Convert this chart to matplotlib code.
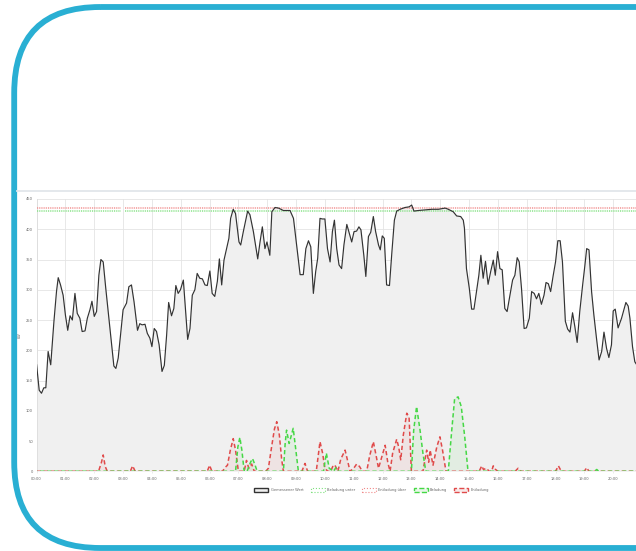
import numpy as np
import matplotlib.pyplot as plt
from matplotlib.patches import FancyBboxPatch, Patch

# --- DATA (hours since midnight, values in kW) ---
measured_t = [0, 0.09, 0.17, 0.25, 0.32, 0.40, 0.49, 0.6, 0.69, 0.75, 0.83, 0.92, 1.0, 1.08, 1.16, 1.24,
              1.33, 1.41, 1.5, 1.58, 1.68, 1.76, 1.85, 1.92, 2.0, 2.08, 2.16, 2.23, 2.31, 2.40, 2.50, 2.59,
              2.68, 2.75, 2.83, 2.91, 3.0, 3.12, 3.20, 3.29, 3.38, 3.50, 3.58, 3.66, 3.76, 3.84, 3.93, 4.0,
              4.08, 4.16, 4.25, 4.35, 4.43, 4.51, 4.58, 4.68, 4.76, 4.83, 4.91, 4.99, 5.09, 5.18, 5.24, 5.32,
              5.40, 5.49, 5.57, 5.66, 5.75, 5.84, 5.92, 6.01, 6.09, 6.18, 6.27, 6.34, 6.42, 6.50, 6.59, 6.67,
              6.73, 6.82, 6.90, 7.02, 7.08, 7.17, 7.32, 7.40, 7.52, 7.67, 7.75, 7.83, 7.92, 7.99, 8.09, 8.16,
              8.27, 8.39, 8.56, 8.79, 8.91, 9.02, 9.14, 9.25, 9.34, 9.43, 9.51, 9.60, 9.68, 9.75, 9.83, 9.91,
              10.0, 10.09, 10.18, 10.26, 10.33, 10.41, 10.49, 10.58, 10.66, 10.76, 10.85, 10.93, 11.01, 11.10,
              11.18, 11.25, 11.35, 11.42, 11.51, 11.59, 11.68, 11.76, 11.86, 11.92, 11.99, 12.06, 12.14, 12.24,
              12.32, 12.41, 12.49, 12.61, 12.78, 12.92, 13.01, 13.09, 13.24, 13.47, 13.71, 13.94, 14.17, 14.28,
              14.45, 14.57, 14.71, 14.80, 14.84, 14.91, 15.01, 15.09, 15.17, 15.26, 15.34, 15.41, 15.49, 15.57,
              15.66, 15.75, 15.84, 15.91, 15.99, 16.07, 16.15, 16.24, 16.32, 16.42, 16.51, 16.59, 16.67, 16.74,
              16.82, 16.91, 16.99, 17.09, 17.17, 17.26, 17.34, 17.42, 17.51, 17.60, 17.67, 17.75, 17.83, 17.92,
              18.0, 18.08, 18.16, 18.24, 18.34, 18.42, 18.50, 18.59, 18.67, 18.75, 18.84, 18.94, 19.02, 19.08,
              19.16, 19.25, 19.33, 19.42, 19.51, 19.60, 19.68, 19.77, 19.85, 19.94, 20.0, 20.07, 20.17, 20.29,
              20.44, 20.52, 20.58, 20.67, 20.75, 20.83]
measured_v = [176, 134, 129, 138, 138, 198, 176, 247, 297, 320, 308, 291, 258, 233, 257, 250,
              294, 261, 253, 231, 232, 253, 267, 281, 256, 264, 324, 350, 346, 302, 256, 214,
              174, 170, 187, 225, 267, 278, 305, 308, 280, 233, 244, 242, 243, 228, 220, 206,
              236, 231, 209, 165, 175, 225, 279, 257, 269, 307, 294, 300, 316, 258, 218, 236,
              291, 300, 327, 319, 318, 308, 307, 331, 294, 289, 314, 351, 308, 349, 368, 385,
              418, 433, 426, 379, 374, 396, 430, 424, 396, 351, 379, 404, 368, 379, 357, 429,
              436, 435, 431, 431, 418, 374, 325, 325, 368, 381, 371, 294, 330, 352, 418, 417,
              417, 368, 346, 396, 415, 368, 341, 335, 374, 408, 393, 379, 396, 397,
              404, 399, 357, 322, 388, 395, 421, 396, 374, 366, 389, 385, 308, 307,
              360, 415, 430, 433, 436, 437, 440, 430, 431, 432, 433, 433, 435, 433,
              429, 422, 421, 415, 402, 335, 302, 268, 268, 297, 324, 357, 319, 347,
              309, 330, 349, 324, 363, 335, 333, 269, 264, 291, 316, 324, 353, 346,
              302, 236, 237, 253, 297, 294, 285, 294, 276, 291, 312, 310, 297, 324,
              346, 381, 381, 346, 248, 235, 230, 262, 239, 213, 264, 308, 341, 368,
              366, 297, 258, 220, 184, 198, 230, 203, 188, 209, 265, 268, 237, 253,
              279, 273, 253, 206, 181, 175]

limit_t = [0, 2.92, 3.0, 3.07, 24]
limit_upper = [435, 435, np.nan, 435, 435]   # Entladung über
limit_lower = [430, 430, np.nan, 430, 430]   # Beladung unter

charge_t = [0, 6.9, 6.98, 7.05, 7.12, 7.2, 7.3, 7.42, 7.49, 7.58, 7.65, 8.56, 8.62, 8.67, 8.76, 8.9,
            8.98, 9.08, 9.95, 10.05, 10.15, 10.3, 10.38, 10.45, 13.0, 13.08, 13.18, 13.3, 13.4, 13.5,
            14.28, 14.4, 14.5, 14.62, 14.73, 14.85, 14.96, 15.0, 19.35, 19.43, 19.5, 24]
charge_v = [0, 0, 40, 56, 35, 0, 0, 15, 21, 10, 0, 0, 45, 68, 46, 71,
            40, 0, 0, 30, 5, 0, 6, 0, 0, 68, 107, 68, 30, 0,
            0, 68, 120, 123, 107, 57, 2, 0, 0, 3, 0, 0]

discharge_t = [0, 2.15, 2.25, 2.31, 2.38, 2.45, 3.25, 3.33, 3.42, 5.92, 6.0, 6.08, 6.45, 6.53, 6.62, 6.72,
               6.82, 6.9, 7.0, 7.2, 7.28, 7.36, 7.46, 7.55, 7.95, 8.04, 8.15, 8.25, 8.33, 8.42, 8.5, 8.56,
               9.2, 9.31, 9.4, 9.7, 9.83, 9.92, 10.0, 10.1, 10.2, 10.29, 10.35, 10.45, 10.55, 10.7, 10.8,
               10.87, 11.0, 11.1, 11.2, 11.3, 11.45, 11.55, 11.68, 11.78, 11.86, 11.95, 12.09, 12.18, 12.26,
               12.35, 12.49, 12.56, 12.63, 12.72, 12.84, 12.92, 13.0, 13.4, 13.53, 13.6, 13.65, 13.75, 13.88,
               13.99, 14.08, 14.2, 15.35, 15.44, 15.5, 15.6, 15.7, 15.78, 15.84, 15.92, 16.0, 16.6, 16.7,
               16.8, 18.0, 18.1, 18.2, 19.0, 19.08, 19.16, 24]
discharge_v = [0, 0, 15, 27, 8, 0, 0, 9, 0, 0, 10, 0, 0, 6, 10, 35,
               54, 35, 0, 0, 18, 5, 12, 0, 0, 5, 40, 70, 82, 60, 20, 0,
               0, 13, 0, 0, 49, 30, 5, 0, 0, 10, 10, 0, 20, 35, 15,
               0, 5, 12, 8, 0, 0, 25, 49, 25, 5, 20, 43, 15, 0,
               30, 53, 40, 19, 60, 96, 89, 0, 0, 35, 15, 35, 10, 40,
               57, 35, 0, 0, 9, 3, 5, 0, 0, 9, 3, 0, 0, 5,
               0, 0, 9, 0, 0, 6, 0, 0]

# only the hours that are visible in the cropped screenshot get a label
hour_ticks = list(range(21))
hour_labels = [f"{h:02d}:00" for h in hour_ticks]
y_ticks = list(range(0, 451, 50))
legend_labels = ["Gemessener Wert", "Beladung unter", "Entladung über", "Beladung", "Entladung"]

assert len(measured_t) == len(measured_v)
assert len(charge_t) == len(charge_v)
assert len(discharge_t) == len(discharge_v)

# --- FIGURE (pixel layout of the screenshot) ---
W_PX, H_PX = 636, 551
fig = plt.figure(figsize=(W_PX / 100, H_PX / 100), dpi=100)

x0, x_hour = 36.6, 28.83      # px position of 00:00 and px per hour
y0, y450 = 471.3, 199.0       # px of value 0 and value 450
ax = fig.add_axes([x0 / W_PX, (H_PX - y0) / H_PX, 24 * x_hour / W_PX, (y0 - y450) / H_PX])
ax.set_facecolor('none')

ax.fill_between(measured_t, measured_v, color='#f0f0f0', lw=0, zorder=1)
ax.plot(measured_t, measured_v, color='#333333', lw=0.85, zorder=5)

ax.plot(limit_t, limit_lower, color='#7fe07f', lw=1.1, ls=(0, (0.6, 0.6)), zorder=4)
ax.plot(limit_t, limit_upper, color='#f08a8a', lw=1.1, ls=(0, (0.6, 0.6)), zorder=4)

ax.fill_between(discharge_t, discharge_v, color='#e04040', alpha=0.07, lw=0, zorder=2)
ax.fill_between(charge_t, charge_v, color='#30d030', alpha=0.07, lw=0, zorder=2)
ax.plot(discharge_t, discharge_v, color='#e04a4a', lw=1.1, ls=(0, (2.8, 1.8)), zorder=6)
ax.plot(charge_t, charge_v, color='#45d845', lw=1.1, ls=(2.3, (2.8, 1.8)), zorder=6)

ax.set_xlim(0, 24)
ax.set_ylim(0, 450)
ax.set_xticks(hour_ticks)
ax.set_xticklabels(hour_labels)
ax.set_yticks(y_ticks)
ax.grid(True, color='#e4e4e4', lw=0.6, zorder=0)
ax.set_axisbelow(True)
for s in ax.spines.values():
    s.set_visible(False)
ax.spines['left'].set_visible(True)
ax.spines['left'].set_color('#dddddd')
ax.spines['left'].set_linewidth(0.6)
ax.tick_params(axis='x', length=1.5, width=0.5, color='#e4e4e4', pad=2.6, labelsize=2.6, labelcolor='#666666')
ax.tick_params(axis='y', length=0, pad=2.6, labelsize=2.6, labelcolor='#666666')

fig.text(20 / W_PX, 1 - 335 / H_PX, "kW", rotation=90, fontsize=2.6, color='#666666', ha='center', va='center')

handles = [
    Patch(facecolor='#efefef', edgecolor='#333333', lw=1.0),
    Patch(facecolor='none', edgecolor='#7fe07f', lw=0.8, ls=':'),
    Patch(facecolor='none', edgecolor='#f08a8a', lw=0.8, ls=':'),
    Patch(facecolor='#eaf7ea', edgecolor='#45d845', lw=1.0, ls='--'),
    Patch(facecolor='#f7eaea', edgecolor='#e04a4a', lw=1.0, ls='--'),
]
fig.legend(handles, legend_labels, loc='center', bbox_to_anchor=(371.7 / W_PX, 1 - 490 / H_PX), ncol=5,
           frameon=False, fontsize=2.6, labelcolor='#666666', handlelength=3.9, handleheight=1.4,
           handletextpad=0.6, columnspacing=2.0, borderpad=0)

# --- card frame ---
ov = fig.add_axes([0, 0, 1, 1], zorder=10)
ov.set_xlim(0, W_PX)
ov.set_ylim(H_PX, 0)
ov.axis('off')
ov.plot([17, W_PX], [191, 191], color='#e2e6eb', lw=1.3)
ov.add_patch(FancyBboxPatch((14.2, 7.0), 900, 541, boxstyle='round,pad=0,rounding_size=86',
                            fill=False, ec='#29afd3', lw=4.2))

fig.savefig("out.png", dpi=100)
